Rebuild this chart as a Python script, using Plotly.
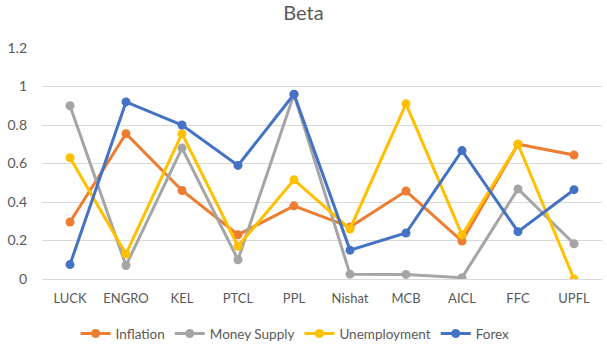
import plotly.graph_objects as go

categories = ["LUCK", "ENGRO", "KEL", "PTCL", "PPL", "Nishat", "MCB", "AICL", "FFC", "UPFL"]
inflation = [0.296, 0.755, 0.46, 0.23, 0.38, 0.27, 0.457, 0.197, 0.70, 0.644]
money_supply = [0.90, 0.07, 0.68, 0.10, 0.96, 0.025, 0.024, 0.007, 0.468, 0.183]
unemployment = [0.63, 0.13, 0.755, 0.17, 0.515, 0.26, 0.91, 0.229, 0.70, 0.0]
forex = [0.075, 0.92, 0.80, 0.59, 0.96, 0.15, 0.239, 0.667, 0.246, 0.464]
y_ticks = [0, 0.2, 0.4, 0.6, 0.8, 1, 1.2]
y_tick_labels = ["0", "0.2", "0.4", "0.6", "0.8", "1", "1.2"]

series = [
    ("Inflation", inflation, "#ED7D31"),
    ("Money Supply", money_supply, "#A5A5A5"),
    ("Unemployment", unemployment, "#FFC000"),
    ("Forex", forex, "#4472C4"),
]

fig = go.Figure()
for name, vals, color in series:
    fig.add_trace(go.Scatter(
        x=categories, y=vals, name=name, mode="lines+markers",
        line=dict(color=color, width=3),
        marker=dict(color=color, size=9),
    ))

font_family = "Lato, 'Open Sans', sans-serif"
fig.update_layout(
    width=607, height=352,
    margin=dict(l=42, r=5, t=48, b=73, autoexpand=False),
    paper_bgcolor="white", plot_bgcolor="white",
    font=dict(family=font_family, color="#595959", size=13),
    title=dict(text="Beta", x=0.5, xanchor="center", y=0.963, yanchor="middle",
               font=dict(size=20, color="#595959", family=font_family)),
    showlegend=True,
    legend=dict(orientation="h", x=0.06, xanchor="left", y=-0.17, yanchor="top",
                font=dict(size=13.5, color="#595959"), itemwidth=30, traceorder="normal"),
    xaxis=dict(showgrid=False, showline=False, zeroline=False, ticks="",
               tickfont=dict(size=13, color="#595959"), range=[-0.5, 9.5],
               ticklabelstandoff=10, automargin=False),
    yaxis=dict(range=[0, 1.2], tickvals=y_ticks, ticktext=y_tick_labels,
               showgrid=True, gridcolor="#D9D9D9", gridwidth=1,
               zeroline=True, zerolinecolor="#D9D9D9", zerolinewidth=1,
               showline=False, ticks="", ticklabelstandoff=14, automargin=False,
               tickfont=dict(size=14, color="#595959")),
)

fig.write_html("out.html")
